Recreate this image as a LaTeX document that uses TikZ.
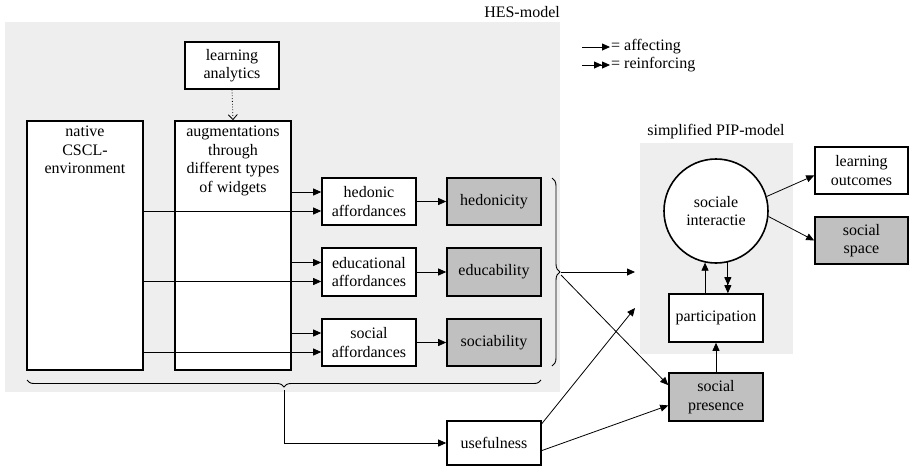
\documentclass[tikz,border=0pt]{standalone}
\usepackage{fontspec}
\setmainfont{Liberation Serif}
\usetikzlibrary{arrows.meta,decorations.pathreplacing}
\definecolor{bgc}{HTML}{EEEEEE}
\definecolor{qc}{HTML}{C0C0C0}
\tikzset{
  txt/.style={font=\fontsize{16pt}{18.5pt}\selectfont, align=center, inner sep=0pt},
  box/.style={txt, draw, line width=1.6pt, fill=white, minimum width=94pt, minimum height=47pt},
  qbox/.style={box, fill=qc},
  bigbox/.style={draw, line width=1.6pt, fill=white, minimum width=116pt, minimum height=249pt, inner sep=0pt},
  arr/.style={line width=0.8pt, -{Triangle[length=8pt,width=7pt]}},
  darr/.style={line width=0.8pt, -{Triangle[length=8pt,width=7pt]Triangle[length=8pt,width=7pt]}},
  bracestyle/.style={line width=0.9pt, decorate, decoration={brace, amplitude=#1}},
}
\begin{document}
\begin{tikzpicture}[x=1pt,y=-1pt]
\useasboundingbox (0,0) rectangle (910,472);
% backgrounds
\fill[bgc] (5,22) rectangle (560,392);
\fill[bgc] (640,143) rectangle (793,354);
\node[txt, anchor=east] (hes) at (560,12) {HES-model};
\node[txt] (pip) at (716,132) {simplified PIP-model};
% legend
\coordinate (l1a) at (582,47);
\coordinate (l1b) at (610,47);
\coordinate (l2a) at (582,65);
\coordinate (l2b) at (610,65);
\draw[arr] (l1a) -- (l1b);
\draw[darr] (l2a) -- (l2b);
\node[txt, anchor=west] (lt1) at (611,47) {= affecting};
\node[txt, anchor=west] (lt2) at (611,65) {= reinforcing};
% HES boxes
\node[box] (la) at (232,65.5) {learning\\analytics};
\node[bigbox] (nat) at (85,245.5) {};
\node[bigbox] (aug) at (233,245.5) {};
\node[txt, anchor=north] (natt) at ([yshift=-6pt]nat.north) {native\\CSCL-\\environment};
\node[txt, anchor=north] (augt) at ([yshift=-6pt]aug.north) {augmentations\\through\\different types\\of widgets};
\draw[line width=0.8pt, dotted, -{Straight Barb[length=5pt,width=9pt]}] (la.south) -- (aug.north);
\node[box] (hed) at (369,201.5) {hedonic\\affordances};
\node[qbox] (hty) at (494,201.5) {hedonicity};
\node[box, minimum height=48pt] (edu) at (369,272) {educational\\affordances};
\node[qbox, minimum height=48pt] (eby) at (494,272) {educability};
\node[box] (soc) at (369,342.5) {social\\affordances};
\node[qbox] (sby) at (494,342.5) {sociability};
% arrows into affordances
\foreach \n in {hed,edu,soc}{
  \coordinate (\n u) at ([yshift=9.5pt]\n.west);
  \coordinate (\n d) at ([yshift=-9.5pt]\n.west);
  \draw[arr] (aug.east |- \n u) -- (\n u);
  \draw[arr] (nat.east |- \n d) -- (\n d);
}
\draw[arr] (hed.east) -- (hty.west);
\draw[arr] (edu.east) -- (eby.west);
\draw[arr] (soc.east) -- (sby.west);
% braces
\draw[bracestyle=8pt] (552,178) -- (552,366);
\coordinate (rb) at (561,272);
\draw[bracestyle=7pt] (541,380) -- (27,380);
\coordinate (bb) at (284,390);
% usefulness
\node[box, minimum height=44pt] (use) at (494,443) {usefulness};
\draw[arr] (bb) -- (bb |- use.west) -- (use.west);
% PIP model
\node[txt, draw, circle, line width=1.6pt, fill=white, minimum size=104pt] (si) at (716,211) {sociale\\interactie};
\node[box, minimum width=93pt] (lo) at (861.5,170.5) {learning\\outcomes};
\node[qbox, minimum width=93pt] (ss) at (861.5,240.5) {social\\space};
\node[box, minimum height=48pt] (part) at (716,318) {participation};
\node[qbox, minimum height=48pt] (sp) at (716,397) {social\\presence};
\draw[arr] (si.16) -- (lo.186);
\draw[arr] (si.-6) -- (ss.west);
\draw[arr] (part.north -| si.258) -- (si.258);
\draw[darr] (si.283) -- (si.283 |- part.north);
\draw[arr] (sp.north) -- (part.south);
% links between models
\coordinate (pipin1) at (635,272);
\coordinate (pipin2) at (635,308);
\draw[arr] (rb) -- (pipin1);
\draw[arr] ([yshift=-3pt]rb) -- (sp.166);
\draw[arr] (use.22) -- (pipin2);
\draw[arr] (use.-9) -- (sp.190);
\end{tikzpicture}
\end{document}
